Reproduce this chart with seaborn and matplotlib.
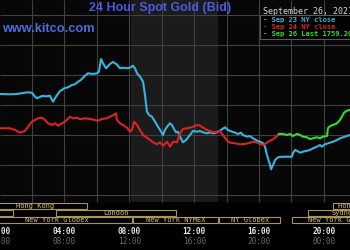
import matplotlib
matplotlib.use("Agg")
import matplotlib.pyplot as plt
import matplotlib.transforms as mtransforms
from matplotlib.patches import Rectangle
import seaborn as sns
import pandas as pd

# ---------------- data (hours NY time, price USD) ----------------
sep23_hours = [0.03, 0.65, 1.08, 1.57, 1.76, 2.00, 2.19, 2.31, 2.62, 2.93, 3.11, 3.30, 3.48, 3.73,
               3.85, 3.98, 4.22, 4.47, 4.65, 4.84, 5.02, 5.27, 5.46, 5.76, 6.01, 6.13, 6.26, 6.38,
               6.57, 6.81, 7.00, 7.24, 7.43, 7.61, 7.86, 8.05, 8.23, 8.35, 8.48, 8.66, 8.85, 8.97,
               9.09, 9.22, 9.40, 9.59, 9.77, 9.90, 10.02, 10.08, 10.20, 10.33, 10.51, 10.63, 10.76,
               10.88, 11.00, 11.13, 11.31, 11.50, 11.74, 11.93, 12.18, 12.36, 12.55, 12.79, 12.98,
               13.16, 13.41, 13.59, 13.72, 13.90, 14.09, 14.33, 14.52, 14.70, 14.89, 15.01, 15.26,
               15.44, 15.63, 15.88, 16.06, 16.25, 16.37, 16.49, 16.68, 16.74, 16.86, 16.99, 17.17,
               17.42, 17.73, 18.03, 18.09, 18.22, 18.34, 18.53, 18.71, 18.96, 19.14, 19.33, 19.57,
               19.76, 19.88, 20.07, 20.38, 20.56, 20.81, 20.99, 21.18, 21.42, 21.61]
sep23_price = [1761.83, 1761.78, 1761.83, 1762.05, 1762.12, 1762.05, 1761.38, 1761.12, 1761.50,
               1761.45, 1761.55, 1760.55, 1761.38, 1762.33, 1762.50, 1762.78, 1762.95, 1763.33,
               1763.45, 1763.88, 1764.17, 1764.88, 1765.28, 1765.17, 1765.28, 1765.55, 1767.67,
               1766.95, 1766.12, 1766.83, 1767.17, 1766.75, 1766.12, 1766.22, 1766.12, 1766.22,
               1766.55, 1766.12, 1765.28, 1764.72, 1763.88, 1761.67, 1758.88, 1758.33, 1758.05,
               1757.22, 1756.38, 1755.83, 1755.28, 1755.00, 1755.83, 1756.38, 1756.95, 1756.67,
               1756.00, 1755.45, 1755.55, 1754.72, 1753.78, 1754.17, 1755.00, 1755.67, 1755.55,
               1755.67, 1755.45, 1755.28, 1755.45, 1755.28, 1755.45, 1755.75, 1755.95, 1756.28,
               1755.83, 1755.55, 1755.38, 1755.17, 1755.38, 1755.00, 1754.72, 1754.83, 1754.45,
               1754.05, 1753.88, 1753.62, 1753.05, 1751.67, 1750.00, 1749.28, 1750.00, 1750.83,
               1751.28, 1751.38, 1751.38, 1751.38, 1751.95, 1752.50, 1752.38, 1752.05, 1752.22,
               1752.38, 1752.50, 1752.78, 1753.05, 1753.33, 1753.05, 1753.45, 1753.72, 1753.88,
               1754.17, 1754.45, 1754.62, 1754.83, 1755.00]

sep24_hours = [0.03, 0.65, 0.96, 1.26, 1.57, 1.76, 2.00, 2.19, 2.37, 2.62, 2.81, 2.99, 3.24, 3.42,
               3.61, 3.85, 4.04, 4.35, 4.53, 4.78, 4.96, 5.27, 5.58, 5.89, 6.07, 6.32, 6.63, 6.81,
               7.00, 7.18, 7.24, 7.43, 7.61, 7.86, 8.05, 8.17, 8.29, 8.48, 8.66, 8.85, 9.09, 9.28,
               9.46, 9.71, 9.90, 10.08, 10.33, 10.51, 10.70, 10.94, 11.13, 11.31, 11.56, 11.74,
               11.93, 12.18, 12.36, 12.55, 12.79, 12.98, 13.16, 13.41, 13.59, 13.78, 14.03, 14.21,
               14.52, 14.83, 15.14, 15.44, 15.63, 15.88, 16.06, 16.25, 16.49, 16.68, 16.86, 17.11,
               17.23]
sep24_price = [1756.12, 1756.12, 1755.83, 1755.38, 1755.67, 1756.38, 1757.22, 1757.50, 1757.78,
               1757.88, 1757.50, 1756.95, 1756.67, 1756.95, 1756.55, 1756.95, 1757.22, 1758.05,
               1757.78, 1757.88, 1757.62, 1757.78, 1757.67, 1757.50, 1757.38, 1757.67, 1757.78,
               1758.05, 1758.28, 1758.62, 1757.50, 1756.95, 1756.67, 1756.22, 1755.55, 1755.83,
               1757.22, 1756.67, 1755.83, 1755.00, 1754.55, 1754.17, 1753.78, 1753.45, 1753.78,
               1753.22, 1753.88, 1753.05, 1753.88, 1753.78, 1755.28, 1756.00, 1756.12, 1756.22,
               1756.38, 1756.67, 1756.55, 1756.22, 1755.83, 1755.67, 1755.45, 1755.55, 1755.67,
               1755.00, 1754.05, 1753.72, 1753.62, 1753.45, 1753.50, 1753.72, 1753.88, 1753.72,
               1753.50, 1753.33, 1753.72, 1754.05, 1754.28, 1754.83, 1755.17]

sep26_hours = [17.23, 17.48, 17.73, 17.91, 18.09, 18.34, 18.53, 18.71, 18.96, 19.14, 19.33, 19.57,
               19.76, 19.94, 20.19, 20.25, 20.38, 20.56, 20.81, 20.99, 21.11, 21.24, 21.42, 21.61]
sep26_price = [1755.17, 1755.17, 1755.00, 1755.17, 1754.83, 1755.17, 1755.00, 1754.72, 1754.62,
               1754.33, 1754.45, 1754.62, 1754.45, 1754.72, 1754.83, 1756.12, 1756.50, 1756.67,
               1756.95, 1757.50, 1758.05, 1758.72, 1759.05, 1759.17]

series_labels = ["- Sep 23 NY close", "- Sep 24 NY close", "- Sep 26 Last 1759.20"]
series_colors = ["#38b4dc", "#dc2222", "#30dc30"]

grid_hours = [2, 4, 6, 8, 10, 12, 14, 16, 18, 20]
grid_prices = [1745, 1750, 1755, 1760, 1765, 1770, 1775]

tick_hours = [0, 4, 8, 12, 16, 20]
tick_ny = ["00:00", "04:00", "08:00", "12:00", "16:00", "20:00"]
tick_gmt = ["04:00", "08:00", "12:00", "16:00", "20:00", "00:00"]

# session bars: name, start hour, end hour, row
session_names = ["Hong Kong", "", "London", "New York Globex", "New York NYMEX", "NY Globex",
                 "Sydney", "Hong Kong", "New York Globex"]
session_start = [-1.1, -3.0, 3.42, -1.1, 8.2, 13.5, 19.0, 20.5, 18.0]
session_end = [5.46, 0.89, 10.95, 8.2, 13.5, 17.36, 23.5, 23.6, 24.0]
session_row = [0, 1, 1, 2, 2, 2, 1, 0, 2]

nymex_open, nymex_close = 8.1, 13.5

# ---------------- figure ----------------
W, H = 350, 250
fig = plt.figure(figsize=(3.5, 2.5), dpi=100)
fig.patch.set_facecolor("#000000")
ax = fig.add_axes([0, 0, 1, 1])
ax.set_facecolor("#000000")
ax.set_xlim(0.5 / 16.22, 350.5 / 16.22)
ax.set_ylim(1760 - 145 / 6, 1760 + 105 / 6)

trans = mtransforms.blended_transform_factory(ax.transData, ax.transAxes)
def fy(py):
    return 1 - py / H

plot_bottom = 202
ax.add_patch(Rectangle((0, fy(plot_bottom)), 1, 1 - fy(plot_bottom), transform=ax.transAxes,
                       facecolor="#070707", edgecolor="none", zorder=0))
ax.axvspan(nymex_open, nymex_close, ymin=fy(plot_bottom), ymax=1, color="#1b1b1b", zorder=0.5, lw=0)
ax.vlines(grid_hours, fy(plot_bottom), 1, transform=trans, color="#404040", lw=0.8, zorder=1)
ax.hlines(grid_prices, 0, 1, transform=ax.get_yaxis_transform(), color="#404040", lw=0.8, zorder=1)

# price lines
for hrs, prc, col in [(sep23_hours, sep23_price, series_colors[0]),
                      (sep24_hours, sep24_price, series_colors[1]),
                      (sep26_hours, sep26_price, series_colors[2])]:
    df = pd.DataFrame({"hour": hrs, "price": prc})
    sns.lineplot(data=df, x="hour", y="price", ax=ax, color=col, lw=1.5, zorder=3, sort=False)
ax.axis("off")

# session bars
row_top = [202.7, 209.5, 216.8]
row_h = 6.6
for name, s, e, r in zip(session_names, session_start, session_end, session_row):
    ax.add_patch(Rectangle((s + 0.04, fy(row_top[r] + row_h)), e - s - 0.08, row_h / H,
                           transform=trans, facecolor="#000000", edgecolor="#a89458",
                           lw=0.8, zorder=4))
    if name:
        ax.text((s + e) / 2, fy(row_top[r] + row_h / 2 + 0.3), name, transform=trans,
                ha="center", va="center", color="#d8c068", fontsize=5.0,
                family="DejaVu Sans Mono", zorder=5)

# time labels
for h, a, b in zip(tick_hours, tick_ny, tick_gmt):
    ax.text(h, fy(232), a, transform=trans, ha="center", va="center", color="#e6e6e6",
            fontsize=5.6, family="DejaVu Sans Mono", fontweight="bold", zorder=5)
    ax.text(h, fy(241), b, transform=trans, ha="center", va="center", color="#6a6a6a",
            fontsize=5.6, family="DejaVu Sans Mono", zorder=5)

# title and site
fig.text(160 / W, fy(8), "24 Hour Spot Gold (Bid)", ha="center", va="center",
         color="#4a5ce0", fontsize=9, family="Liberation Sans", fontweight="bold")
fig.text(2 / W, fy(29), "www.kitco.com", ha="left", va="center",
         color="#4a6ee0", fontsize=9.2, family="Liberation Sans", fontweight="bold")

# date and legend
fig.text(263 / W, fy(11), "September 26, 2021", ha="left", va="center", color="#d4d4d4",
         fontsize=6, family="DejaVu Sans Mono")
fig.patches.append(Rectangle((260 / W, fy(39)), 1, 24 / H, transform=fig.transFigure,
                             facecolor="#000000", edgecolor="#5a5a5a", lw=0.8, zorder=6))
for lab, col, py in zip(series_labels, series_colors, [20, 27, 34.3]):
    fig.text(263 / W, fy(py), lab, ha="left", va="center", color=col, fontsize=5.1,
             family="DejaVu Sans Mono", fontweight="bold", zorder=7)

fig.savefig("out.png", dpi=100, facecolor=fig.get_facecolor())
